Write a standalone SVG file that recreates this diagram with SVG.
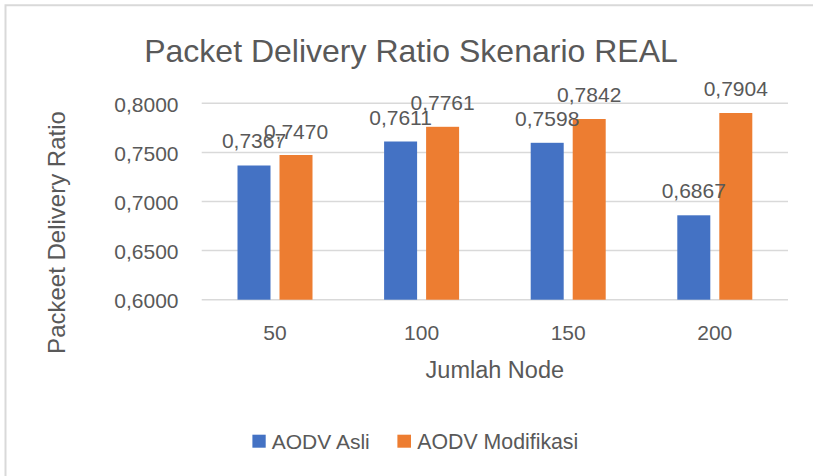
<svg xmlns="http://www.w3.org/2000/svg" width="813" height="476" viewBox="0 0 813 476">
<style>
text{font-family:"Liberation Sans",Arial,sans-serif;fill:#595959}
.grid{stroke:#d9d9d9;stroke-width:1.5}
.tick{font-size:21px;text-anchor:end}
.lbl{font-size:21px;text-anchor:middle}
.cat{font-size:21px;text-anchor:middle}
.blue{fill:#4472C4}
.orange{fill:#ED7D31}
</style>
<rect x="0" y="0" width="813" height="476" fill="#ffffff"/>
<path d="M5.5 476 V5.2 H813" fill="none" stroke="#d9d9d9" stroke-width="2"/>
<text id="title" x="411" y="62" font-size="32" text-anchor="middle">Packet Delivery Ratio Skenario REAL</text>
<g id="gridlines">
<line class="grid" x1="201.7" y1="103.3" x2="788" y2="103.3"/>
<line class="grid" x1="201.7" y1="152.4" x2="788" y2="152.4"/>
<line class="grid" x1="201.7" y1="201.5" x2="788" y2="201.5"/>
<line class="grid" x1="201.7" y1="250.6" x2="788" y2="250.6"/>
<line class="grid" x1="201.7" y1="299.7" x2="788" y2="299.7"/>
</g>
<g id="yticks">
<text class="tick" x="178.5" y="111.7">0,8000</text>
<text class="tick" x="178.5" y="160.8">0,7500</text>
<text class="tick" x="178.5" y="209.9">0,7000</text>
<text class="tick" x="178.5" y="259">0,6500</text>
<text class="tick" x="178.5" y="308.1">0,6000</text>
</g>
<text id="ytitle" transform="translate(65,232.5) rotate(-90)" font-size="24" text-anchor="middle">Packeet Delivery Ratio</text>
<g id="bars">
<rect class="blue" x="237.5" y="165.5" width="33" height="134.2"/>
<rect class="orange" x="279.5" y="155" width="33" height="144.7"/>
<rect class="blue" x="384.1" y="141.5" width="33" height="158.2"/>
<rect class="orange" x="426.1" y="126.8" width="33" height="172.9"/>
<rect class="blue" x="530.7" y="142.8" width="33" height="156.9"/>
<rect class="orange" x="572.7" y="119" width="33" height="180.7"/>
<rect class="blue" x="677.3" y="215.3" width="33" height="84.4"/>
<rect class="orange" x="719.3" y="113" width="33" height="186.7"/>
</g>
<g id="datalabels">
<text class="lbl" x="254" y="148">0,7367</text>
<text class="lbl" x="296" y="138.5">0,7470</text>
<text class="lbl" x="400.6" y="124.5">0,7611</text>
<text class="lbl" x="442.6" y="109.5">0,7761</text>
<text class="lbl" x="547.2" y="125.5">0,7598</text>
<text class="lbl" x="589.2" y="101.5">0,7842</text>
<text class="lbl" x="693.8" y="197.8">0,6867</text>
<text class="lbl" x="735.8" y="95.5">0,7904</text>
</g>
<g id="xticks">
<text class="cat" x="275" y="339.5">50</text>
<text class="cat" x="421.6" y="339.5">100</text>
<text class="cat" x="568.2" y="339.5">150</text>
<text class="cat" x="714.8" y="339.5">200</text>
</g>
<text id="xtitle" x="494.8" y="378.3" font-size="23.5" text-anchor="middle">Jumlah Node</text>
<g id="legend">
<rect class="blue" x="252.4" y="434.7" width="13.3" height="13"/>
<text x="271.7" y="449" font-size="21">AODV Asli</text>
<rect class="orange" x="397.4" y="434.7" width="13.6" height="13"/>
<text x="417.3" y="449" font-size="21.3">AODV Modifikasi</text>
</g>
</svg>
